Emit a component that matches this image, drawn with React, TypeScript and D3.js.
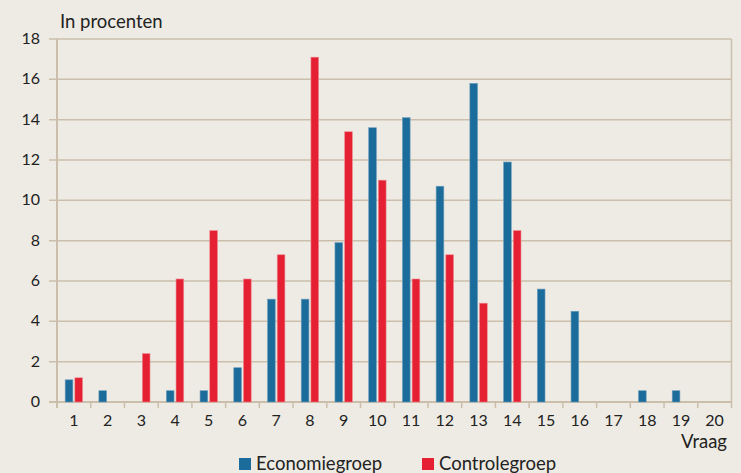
import * as d3 from 'd3';
import React from 'react';

const vragen = ['1','2','3','4','5','6','7','8','9','10','11','12','13','14','15','16','17','18','19','20'];
const economiegroep = [1.1, 0.56, 0, 0.56, 0.56, 1.7, 5.1, 5.1, 7.9, 13.6, 14.1, 10.7, 15.8, 11.9, 5.6, 4.5, 0, 0.56, 0.56, 0];
const controlegroep = [1.2, 0, 2.4, 6.1, 8.5, 6.1, 7.3, 17.1, 13.4, 11.0, 6.1, 7.3, 4.9, 8.5, 0, 0, 0, 0, 0, 0];
const yTicks = [0, 2, 4, 6, 8, 10, 12, 14, 16, 18];

const W = 741, H = 473;
const BG = '#eeebe4';
const GRID = '#cbbfac';
const BLUE = '#1b6c9b';
const RED = '#e42032';
const FONT = 'Lato, "Open Sans", sans-serif';

export default function App() {
    const left = 57, right = 731.5, top = 39, bottom = 402

    const x = d3.scaleBand().domain(vragen).range([left, right]).padding(0)
    const y = d3.scaleLinear().domain([0, 18]).range([bottom, top])
    const bw = 7.7, gap = 2

    return (
        <svg width={W} height={H} style={{ display: 'block', position: 'absolute', left: 0, top: 0, background: BG }}>
            <rect x={0} y={0} width={W} height={H} fill={BG} />
            {/* gridlines */}
            {yTicks.map(t => (
                <g key={t}>
                    <line x1={49} x2={right} y1={y(t)} y2={y(t)} stroke={GRID} strokeWidth={t === 0 ? 2 : 1.5} />
                    <text x={40} y={y(t) + 5} textAnchor="end" fontFamily={FONT} fontSize={16} fill="#222">{t}</text>
                </g>
            ))}
            {/* left axis and right border */}
            <line x1={left} x2={left} y1={top} y2={bottom + 6} stroke={GRID} strokeWidth={2} />
            <line x1={right} x2={right} y1={top} y2={bottom + 6} stroke={GRID} strokeWidth={1.5} />
            {/* x ticks */}
            {vragen.map((v, i) => (
                <g key={v}>
                    {i > 0 && <line x1={x(v)} x2={x(v)} y1={bottom} y2={bottom + 6} stroke={GRID} strokeWidth={1.5} />}
                    <text x={x(v)! + x.bandwidth() / 2} y={426} textAnchor="middle" fontFamily={FONT} fontSize={16} fill="#222">{v}</text>
                </g>
            ))}
            {/* bars */}
            {vragen.map((v, i) => {
                const c = x(v)! + x.bandwidth() / 2
                return (
                    <g key={'b' + v}>
                        {economiegroep[i] > 0 && (
                            <rect x={c - gap / 2 - bw} y={y(economiegroep[i])} width={bw} height={bottom - y(economiegroep[i])}
                                fill={BLUE} stroke="#6f9fbc" strokeWidth={0.6} />
                        )}
                        {controlegroep[i] > 0 && (
                            <rect x={c + gap / 2} y={y(controlegroep[i])} width={bw} height={bottom - y(controlegroep[i])}
                                fill={RED} stroke="#f08a92" strokeWidth={0.6} />
                        )}
                    </g>
                )
            })}
            <text x={60} y={28} fontFamily={FONT} fontSize={18.5} fill="#222">In procenten</text>
            <text x={727} y={448} textAnchor="end" fontFamily={FONT} fontSize={18.5} fill="#222">Vraag</text>
            {/* legend */}
            <rect x={239} y={458} width={12} height={12} fill={BLUE} />
            <text x={256} y={470} fontFamily={FONT} fontSize={18.5} fill="#222">Economiegroep</text>
            <rect x={422} y={458} width={12} height={12} fill={RED} />
            <text x={439} y={470} fontFamily={FONT} fontSize={18.5} fill="#222">Controlegroep</text>
        </svg>
    )
}
